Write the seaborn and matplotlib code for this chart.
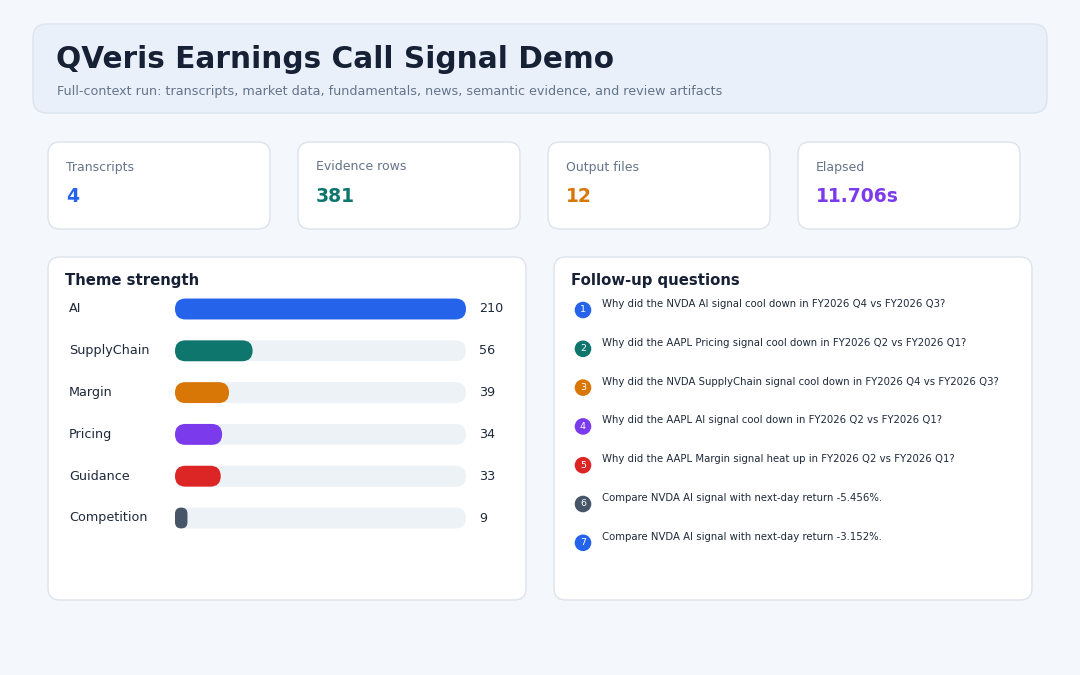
import matplotlib
matplotlib.use("Agg")
import matplotlib.pyplot as plt
import seaborn as sns
import pandas as pd
from matplotlib.patches import FancyBboxPatch, Circle
from matplotlib import transforms

# ---------------- data ----------------
title = "QVeris Earnings Call Signal Demo"
subtitle = ("Full-context run: transcripts, market data, fundamentals, news, "
            "semantic evidence, and review artifacts")
card_labels = ["Transcripts", "Evidence rows", "Output files", "Elapsed"]
card_values = ["4", "381", "12", "11.706s"]
card_colors = ["#2563eb", "#0f766e", "#d97706", "#7c3aed"]

themes = ["AI", "SupplyChain", "Margin", "Pricing", "Guidance", "Competition"]
theme_values = [210, 56, 39, 34, 33, 9]
theme_colors = ["#2563eb", "#0f766e", "#d97706", "#7c3aed", "#dc2626", "#475569"]

questions = [
    "Why did the NVDA AI signal cool down in FY2026 Q4 vs FY2026 Q3?",
    "Why did the AAPL Pricing signal cool down in FY2026 Q2 vs FY2026 Q1?",
    "Why did the NVDA SupplyChain signal cool down in FY2026 Q4 vs FY2026 Q3?",
    "Why did the AAPL AI signal cool down in FY2026 Q2 vs FY2026 Q1?",
    "Why did the AAPL Margin signal heat up in FY2026 Q2 vs FY2026 Q1?",
    "Compare NVDA AI signal with next-day return -5.456%.",
    "Compare NVDA AI signal with next-day return -3.152%.",
]
question_colors = ["#2563eb", "#0f766e", "#d97706", "#7c3aed", "#dc2626",
                   "#475569", "#2563eb"]

# ---------------- style ----------------
sns.set_theme(style="white")
plt.rcParams["font.family"] = ["DejaVu Sans"]

DARK = "#172135"
MUTED = "#64748b"
TEXT = "#1e293b"
BORDER = "#dde3ec"

W, H = 1080, 675
fig = plt.figure(figsize=(W / 100, H / 100), dpi=100)
fig.patch.set_facecolor("#f4f7fb")

bg = fig.add_axes([0, 0, 1, 1])
bg.set_xlim(0, W)
bg.set_ylim(H, 0)
bg.axis("off")
bg.patch.set_alpha(0)


def rbox(x0, y0, x1, y1, r, fc, ec, lw=1.0):
    p = FancyBboxPatch((x0, y0), x1 - x0, y1 - y0,
                       boxstyle=f"round,pad=0,rounding_size={r}",
                       fc=fc, ec=ec, lw=lw)
    bg.add_patch(p)


# header
rbox(33, 24, 1047, 113, 14, "#e9f0fa", "#dbe4f0")
bg.text(56, 59, title, fontsize=21.3, weight="bold", color=DARK, va="center")
bg.text(57, 91, subtitle, fontsize=9.2, color=MUTED, va="center")

# cards
card_x = [48, 298, 548, 798]
for x0, lab, val, col in zip(card_x, card_labels, card_values, card_colors):
    rbox(x0, 142, x0 + 222, 229, 12, "white", BORDER)
    bg.text(x0 + 18, 167, lab, fontsize=9, color=MUTED, va="center")
    bg.text(x0 + 18, 196, val, fontsize=13.5, weight="bold", color=col, va="center")

# panels
rbox(48, 257, 526, 600, 12, "white", BORDER)
rbox(554, 257, 1032, 600, 12, "white", BORDER)
bg.text(65, 280, "Theme strength", fontsize=10.7, weight="bold", color=DARK, va="center")
bg.text(571, 280, "Follow-up questions", fontsize=10.7, weight="bold", color=DARK, va="center")

# ---------------- bar chart ----------------
bx0, bx1 = 175, 466
row0, row_step = 309, 41.8
by0 = row0 - row_step / 2
by1 = row0 + row_step * (len(themes) - 0.5)
axb = fig.add_axes([bx0 / W, 1 - by1 / H, (bx1 - bx0) / W, (by1 - by0) / H])
axb.patch.set_alpha(0)

df = pd.DataFrame({"theme": themes, "value": theme_values})
sns.barplot(data=df, x="value", y="theme", hue="theme", order=themes,
            hue_order=themes, palette=theme_colors, width=0.5,
            ax=axb, legend=False, saturation=1)
xmax = max(theme_values)
axb.set_xlim(0, xmax)
axb.set_ylim(len(themes) - 0.5, -0.5)
axb.axis("off")

sx = (bx1 - bx0) / xmax          # px per x unit
sy = row_step                     # px per y unit
aspect = sx / sy

bars = list(axb.patches)
for p in bars:
    x, y, w, h = p.get_x(), p.get_y(), p.get_width(), p.get_height()
    fc = p.get_facecolor()
    p.set_visible(False)
    h_px = abs(h) * sy
    r_track = (h_px / 2) / sx
    track = FancyBboxPatch((0, y), xmax, h,
                           boxstyle=f"round,pad=0,rounding_size={r_track}",
                           mutation_aspect=aspect, fc="#edf2f7", ec="none",
                           zorder=1)
    axb.add_patch(track)
    r_bar = min(h_px / 2, w * sx / 2) / sx
    bar = FancyBboxPatch((x, y), w, h,
                         boxstyle=f"round,pad=0,rounding_size={r_bar}",
                         mutation_aspect=aspect, fc=fc, ec="none", zorder=2)
    axb.add_patch(bar)

trans = transforms.blended_transform_factory(bg.transData, axb.transData)
for i, (t, v) in enumerate(zip(themes, theme_values)):
    axb.text(69, i, t, transform=trans, va="center", ha="left",
             fontsize=9.2, color=TEXT)
    axb.text(479, i, str(v), transform=trans, va="center", ha="left",
             fontsize=9.2, color=TEXT)

# ---------------- questions ----------------
q0, q_step = 310, 38.8
for i, (q, c) in enumerate(zip(questions, question_colors)):
    cy = q0 + q_step * i
    bg.add_patch(Circle((583, cy), 8.3, fc=c, ec="none"))
    bg.text(583, cy, str(i + 1), fontsize=6.8, color="white",
            ha="center", va="center")
    bg.text(602, cy - 6, q, fontsize=7.25, color=TEXT, ha="left", va="center")

fig.savefig("out.png", dpi=100, facecolor=fig.get_facecolor())
